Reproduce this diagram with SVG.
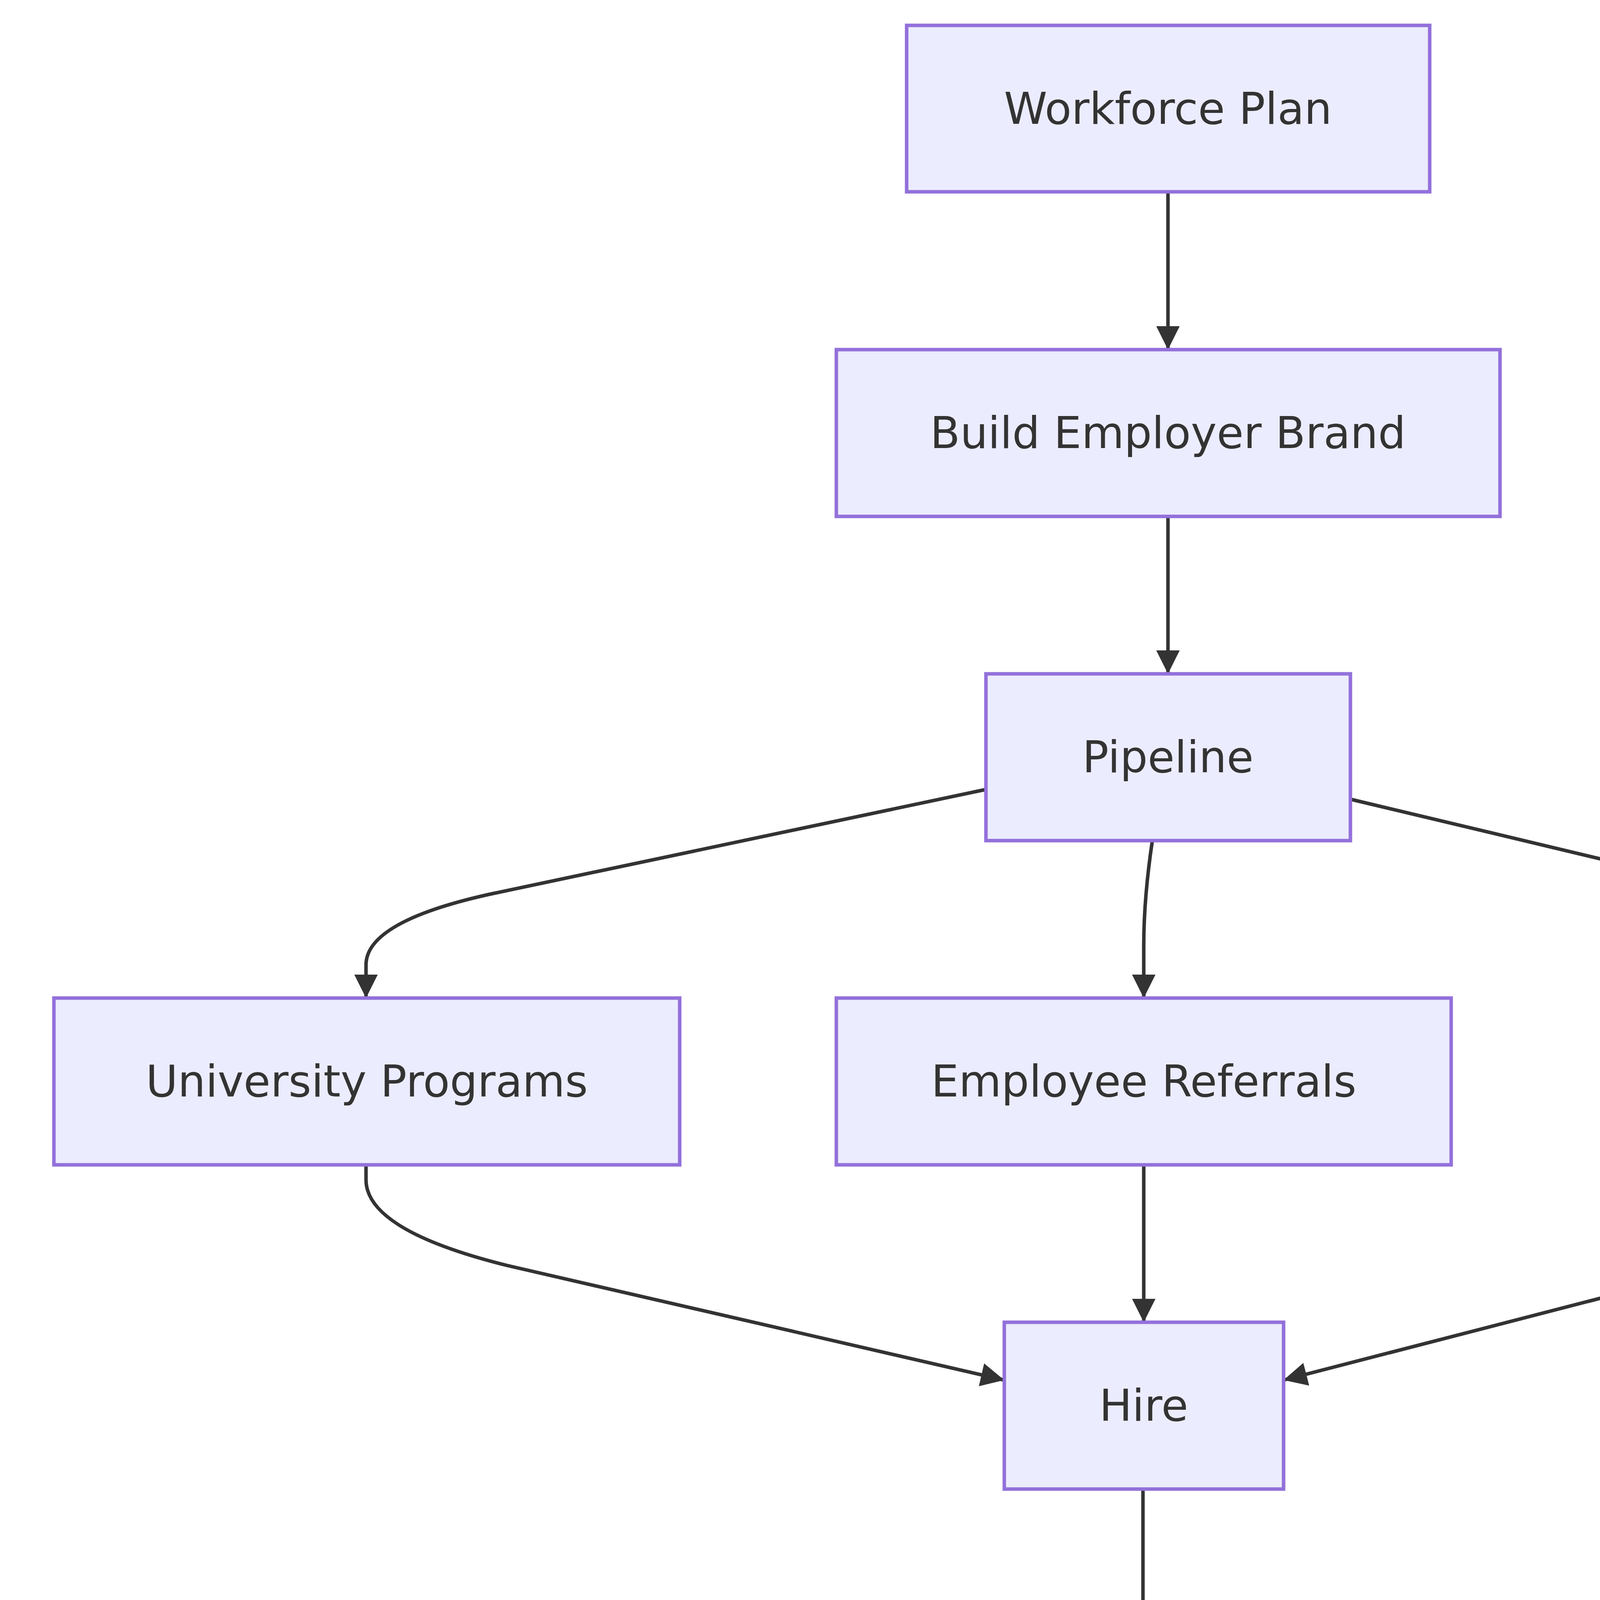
<svg xmlns="http://www.w3.org/2000/svg" width="5832" height="7216" viewBox="0 0 5832 7216">
<style>
.n rect{fill:#ECECFF;stroke:#9370DB;stroke-width:9}
.n text{font-family:"DejaVu Sans",sans-serif;font-size:112px;fill:#333;text-anchor:middle;dominant-baseline:central}
.e path{fill:none;stroke:#333;stroke-width:9;marker-end:url(#ah)}
</style>
<defs>
<marker id="ah" markerUnits="userSpaceOnUse" markerWidth="64" markerHeight="64" refX="60" refY="30" orient="auto" viewBox="0 0 64 64">
<path d="M0,0 L60,30 L0,60 z" fill="#333"/>
</marker>
</defs>
<rect width="5832" height="7216" fill="#fff"/>
<g id="edges" class="e">
<path d="M2990,491 L2990,895"/>
<path d="M2990,1322 L2990,1725"/>
<path d="M2524,2021 L1250,2290 Q937,2360 937,2470 L937,2555"/>
<path d="M2950,2152 Q2928,2300 2928,2420 L2928,2555"/>
<path d="M3457,2046 L4480,2290 Q4786,2360 4786,2470 L4786,2555"/>
<path d="M937,2982 L937,3020 Q937,3150 1300,3240 L2571,3533"/>
<path d="M2928,2982 L2928,3385"/>
<path d="M4786,2982 L4786,3020 Q4786,3150 4420,3240 L3286,3533"/>
<path d="M2926,3812 L2926,4215"/>
<path d="M2464,4530 L1200,4790 Q886,4860 886,4970 L886,5045"/>
<path d="M2928,4642 L2928,5045"/>
<path d="M3392,4530 L4620,4790 Q4924,4860 4924,4970 L4924,5045"/>
<path d="M886,5472 L886,5510 Q886,5640 1250,5730 L2524,5996"/>
<path d="M2928,5472 Q2940,5600 2940,5700 L2940,5875"/>
<path d="M4924,5472 L4924,5510 Q4924,5640 4560,5730 L3364,5996"/>
<path d="M2524,6181 L1280,6440 Q969,6510 969,6620 L969,6705"/>
<path d="M2935,6302 Q2926,6450 2926,6560 L2926,6705"/>
<path d="M3364,6181 L4480,6440 Q4786,6510 4786,6620 L4786,6705"/>
</g>
<g id="workforce" class="n"><rect x="2321" y="65" width="1339" height="426"/><text x="2990" y="278">Workforce Plan</text></g>
<g id="brand" class="n"><rect x="2141" y="895" width="1699" height="427"/><text x="2990" y="1108">Build Employer Brand</text></g>
<g id="pipeline" class="n"><rect x="2524" y="1725" width="933" height="427"/><text x="2990" y="1938">Pipeline</text></g>
<g id="university" class="n"><rect x="138" y="2555" width="1602" height="427"/><text x="939" y="2768">University Programs</text></g>
<g id="referrals" class="n"><rect x="2141" y="2555" width="1574" height="427"/><text x="2928" y="2768">Employee Referrals</text></g>
<g id="sourcing" class="n"><rect x="4112" y="2555" width="1348" height="427"/><text x="4786" y="2768">Active Sourcing</text></g>
<g id="hire" class="n"><rect x="2571" y="3385" width="715" height="427"/><text x="2928" y="3598">Hire</text></g>
<g id="develop" class="n"><rect x="2464" y="4215" width="928" height="427"/><text x="2928" y="4428">Develop</text></g>
<g id="training" class="n"><rect x="65" y="5045" width="1656" height="427"/><text x="893" y="5258">Training &amp; Mentoring</text></g>
<g id="stretch" class="n"><rect x="2123" y="5045" width="1611" height="427"/><text x="2928" y="5258">Stretch Assignments</text></g>
<g id="leadership" class="n"><rect x="4135" y="5045" width="1583" height="427"/><text x="4926" y="5258">Leadership Pipeline</text></g>
<g id="retain" class="n"><rect x="2524" y="5875" width="840" height="427"/><text x="2944" y="6088">Retain</text></g>
<g id="compensation" class="n"><rect x="65" y="6705" width="1804" height="427"/><text x="967" y="6918">Compensation &amp; Equity</text></g>
<g id="career" class="n"><rect x="2271" y="6705" width="1310" height="427"/><text x="2926" y="6918">Career Growth</text></g>
<g id="culture" class="n"><rect x="3978" y="6705" width="1615" height="427"/><text x="4786" y="6918">Culture &amp; Belonging</text></g>
</svg>
